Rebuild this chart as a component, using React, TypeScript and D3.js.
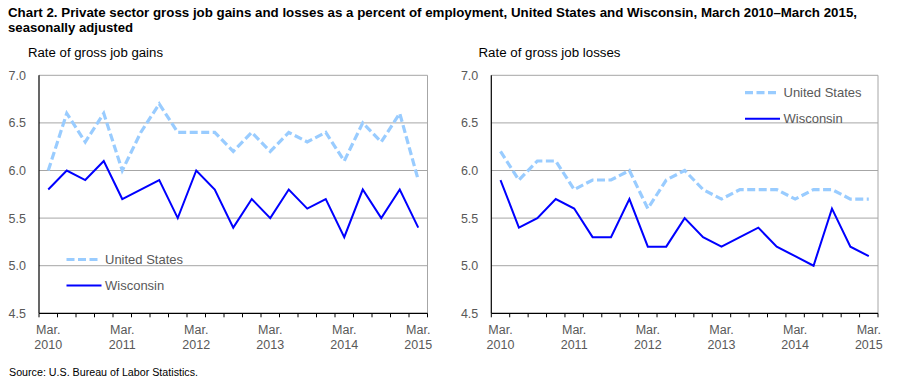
import React from 'react';
import * as d3 from 'd3';

const quarters = [
  'Mar. 2010', 'Jun. 2010', 'Sep. 2010', 'Dec. 2010',
  'Mar. 2011', 'Jun. 2011', 'Sep. 2011', 'Dec. 2011',
  'Mar. 2012', 'Jun. 2012', 'Sep. 2012', 'Dec. 2012',
  'Mar. 2013', 'Jun. 2013', 'Sep. 2013', 'Dec. 2013',
  'Mar. 2014', 'Jun. 2014', 'Sep. 2014', 'Dec. 2014',
  'Mar. 2015',
];

const gainsUS = [6.0, 6.6, 6.3, 6.6, 6.0, 6.4, 6.7, 6.4, 6.4, 6.4, 6.2, 6.4, 6.2, 6.4, 6.3, 6.4, 6.1, 6.5, 6.3, 6.6, 5.9];
const gainsWI = [5.8, 6.0, 5.9, 6.1, 5.7, 5.8, 5.9, 5.5, 6.0, 5.8, 5.4, 5.7, 5.5, 5.8, 5.6, 5.7, 5.3, 5.8, 5.5, 5.8, 5.4];
const lossesUS = [6.2, 5.9, 6.1, 6.1, 5.8, 5.9, 5.9, 6.0, 5.6, 5.9, 6.0, 5.8, 5.7, 5.8, 5.8, 5.8, 5.7, 5.8, 5.8, 5.7, 5.7];
const lossesWI = [5.9, 5.4, 5.5, 5.7, 5.6, 5.3, 5.3, 5.7, 5.2, 5.2, 5.5, 5.3, 5.2, 5.3, 5.4, 5.2, 5.1, 5.0, 5.6, 5.2, 5.1];

const yTicks = [4.5, 5.0, 5.5, 6.0, 6.5, 7.0];
const seriesNames = ['United States', 'Wisconsin'];

const FONT = '"Liberation Sans", Arial, Helvetica, sans-serif';
const US_COLOR = '#99CCFF';
const WI_COLOR = '#0000FF';
const GRID = '#A6A6A6';
const LABEL = '#595959';

type PanelProps = {
  x0: number;
  x1: number;
  title: string;
  titleX: number;
  titleLen: number;
  us: number[];
  wi: number[];
  legendX: number;
  legendY: number;
};

const Panel = ({ x0, x1, title, titleX, titleLen, us, wi, legendX, legendY }: PanelProps) => {
  const y = d3.scaleLinear().domain([4.5, 7.0]).range([313.3, 75.3]);
  const x = d3.scaleBand<string>().domain(quarters).range([x0, x1]);
  const bw = x.bandwidth();
  const cx = (q: string) => (x(q) as number) + bw / 2;
  const line = d3
    .line<number>()
    .x((_, i) => cx(quarters[i]))
    .y((v) => y(v));
  const boundaries = d3.range(quarters.length + 1).map((i) => x0 + i * bw);
  const yBottom = y(4.5);
  const yTop = y(7.0);

  return (
    <g>
      <text
        x={titleX}
        y={56.5}
        fontSize={12.5}
        fill="#000"
        fontFamily={FONT}
        textLength={titleLen}
        lengthAdjust="spacingAndGlyphs"
      >
        {title}
      </text>
      {yTicks.filter((t) => t > 4.5).map((t) => (
        <line key={'g' + t} x1={x0} x2={x1} y1={y(t)} y2={y(t)} stroke={GRID} strokeWidth={1} />
      ))}
      <line x1={x1} x2={x1} y1={yTop} y2={yBottom} stroke={GRID} strokeWidth={1} />
      {yTicks.map((t) => (
        <text
          key={'yl' + t}
          x={x0 - 13}
          y={y(t)}
          dy="0.36em"
          textAnchor="end"
          fontSize={12.5}
          fill={LABEL}
          fontFamily={FONT}
        >
          {t.toFixed(1)}
        </text>
      ))}
      <line x1={x0} x2={x0} y1={yTop} y2={yBottom} stroke="#000" strokeWidth={1.2} />
      <line x1={x0} x2={x1} y1={yBottom} y2={yBottom} stroke="#000" strokeWidth={1.2} />
      {boundaries.map((bx, i) => (
        <line key={'t' + i} x1={bx} x2={bx} y1={yBottom} y2={yBottom + 4} stroke="#000" strokeWidth={1} />
      ))}
      {quarters.map((q) =>
        q.startsWith('Mar.') ? (
          <text key={'xl' + q} textAnchor="middle" fontSize={12.5} fill={LABEL} fontFamily={FONT}>
            <tspan x={cx(q)} y={334}>
              {q.split(' ')[0]}
            </tspan>
            <tspan x={cx(q)} y={348.5}>
              {q.split(' ')[1]}
            </tspan>
          </text>
        ) : null
      )}
      <path d={line(us) || ''} fill="none" stroke={US_COLOR} strokeWidth={3.2} strokeDasharray="8,3.5" />
      <path d={line(wi) || ''} fill="none" stroke={WI_COLOR} strokeWidth={2} strokeLinejoin="miter" />
      <g>
        <line
          x1={legendX}
          x2={legendX + 33}
          y1={legendY}
          y2={legendY}
          stroke={US_COLOR}
          strokeWidth={3.2}
          strokeDasharray="8,3.5"
        />
        <text x={legendX + 38.5} y={legendY + 4.5} fontSize={13} fill={LABEL} fontFamily={FONT}>
          {seriesNames[0]}
        </text>
        <line
          x1={legendX}
          x2={legendX + 35}
          y1={legendY + 26}
          y2={legendY + 26}
          stroke={WI_COLOR}
          strokeWidth={2}
        />
        <text x={legendX + 38.5} y={legendY + 30.5} fontSize={13} fill={LABEL} fontFamily={FONT}>
          {seriesNames[1]}
        </text>
      </g>
    </g>
  );
};

export default function App() {
  return (
    <svg
      width={901}
      height={385}
      style={{ position: 'absolute', left: 0, top: 0, background: '#fff' }}
    >
      <rect x={0} y={0} width={901} height={385} fill="#fff" />
      <text x={8} y={17} fontSize={12} fontWeight="bold" fill="#000" fontFamily={FONT} textLength={849} lengthAdjust="spacingAndGlyphs">
        Chart 2. Private sector gross  job gains and losses  as a percent of employment, United States and Wisconsin,  March 2010–March  2015,
      </text>
      <text x={8} y={31.5} fontSize={12} fontWeight="bold" fill="#000" fontFamily={FONT} textLength={125} lengthAdjust="spacingAndGlyphs">
        seasonally adjusted
      </text>
      <Panel
        x0={39}
        x1={427.5}
        title="Rate of gross job gains"
        titleX={28}
        titleLen={135}
        us={gainsUS}
        wi={gainsWI}
        legendX={66.5}
        legendY={259.5}
      />
      <Panel
        x0={491.3}
        x1={878}
        title="Rate of gross job losses"
        titleX={478.5}
        titleLen={142}
        us={lossesUS}
        wi={lossesWI}
        legendX={745}
        legendY={92.7}
      />
      <text x={9} y={376} fontSize={10} fill="#000" fontFamily={FONT} textLength={189} lengthAdjust="spacingAndGlyphs">
        Source: U.S. Bureau of Labor Statistics.
      </text>
    </svg>
  );
}
